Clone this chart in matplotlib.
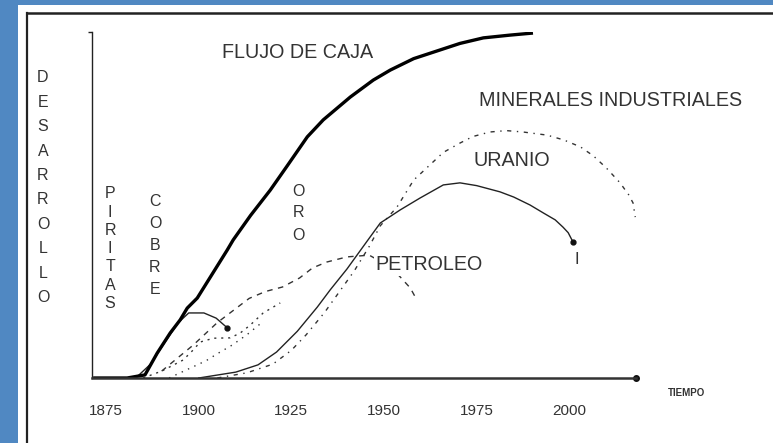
import matplotlib
matplotlib.use("Agg")
import matplotlib.pyplot as plt
from matplotlib import font_manager as fm
from matplotlib.lines import Line2D
from matplotlib.patches import Rectangle

# ---------------- data ----------------
flujo_anio = [1871.5, 1880.7, 1885.5, 1888.8, 1892.3, 1895.0, 1896.9, 1899.6, 1907.7, 1909.3,
              1914.0, 1919.3, 1924.0, 1929.3, 1933.6, 1940.9, 1947.1, 1951.7, 1958.0,
              1965.1, 1970.5, 1976.8, 1984.0, 1990.2]
flujo_val = [0, 0, 0.9, 7.2, 13.0, 16.8, 20.2, 23.1, 37.0, 39.9,
             47.0, 54.3, 61.5, 69.7, 74.6, 81.2, 86.1, 89.0, 92.3,
             94.8, 96.7, 98.3, 99.1, 99.7]

cobre_anio = [1883, 1887, 1891, 1894.5, 1897.3, 1901.4, 1904.7, 1907.7]
cobre_val = [0, 4, 10.5, 16, 18.8, 18.8, 17.3, 14.5]

piritas_anio = [1885, 1890, 1895.8, 1898.5, 1900.4, 1904, 1908.5, 1911.2, 1913.9, 1917.4, 1922]
piritas_val = [0, 2, 5.2, 8.1, 10.4, 11.5, 11.6, 13, 15.3, 18.8, 21.7]

oro_anio = [1892, 1897, 1902, 1905, 1909, 1913, 1917]
oro_val = [0, 2.5, 5, 7, 9.5, 12.5, 16]

petroleo_anio = [1890, 1898.5, 1905, 1913.6, 1918, 1922.6, 1927.2, 1930.7, 1934.5, 1940, 1946,
                 1952, 1957.1, 1958.9]
petroleo_val = [2, 9.5, 16, 23, 25, 26.3, 28.9, 31.8, 33.5, 35, 35.5, 32, 26, 22.5]

uranio_anio = [1900, 1910, 1916, 1921, 1926.6, 1932, 1935.5, 1940, 1945.4, 1949, 1954.4,
               1959.7, 1966, 1970.5, 1975, 1981.3, 1985, 1989.4, 1993, 1996.2, 1998.3,
               1999.7, 2001]
uranio_val = [0, 1.7, 3.8, 7.5, 13.5, 20.5, 25.5, 31.5, 39.5, 44.8, 48.6,
              52.0, 55.8, 56.4, 55.6, 53.8, 52.3, 50.0, 47.7, 45.7, 43.6,
              42.0, 39.3]

minerales_anio = [1905, 1913, 1920, 1925, 1929, 1934, 1938, 1942, 1946, 1949, 1953.5, 1958,
                  1962.4, 1966, 1970.5, 1974, 1978.6, 1983, 1987.5, 1994, 1998.5, 2003,
                  2006.5, 2010, 2013.7, 2016, 2017.2, 2017.8]
minerales_val = [0, 1.5, 4, 8, 12.5, 19, 25, 31, 38, 44, 49.4, 57.2,
                 61.6, 65.2, 67.9, 69.8, 71.1, 71.5, 71.1, 70.2, 68.8, 66.8,
                 64.2, 60.7, 56.4, 53.0, 50.6, 46.5]

x_ticks = [1875, 1900, 1925, 1950, 1975, 2000]
x_tick_labels = ["1875", "1900", "1925", "1950", "1975", "2000"]

# ---------------- figure ----------------
W, H = 773, 443
names = {f.name for f in fm.fontManager.ttflist}
FAM = "Liberation Sans" if "Liberation Sans" in names else "DejaVu Sans"
plt.rcParams["font.family"] = [FAM, "DejaVu Sans"]

fig = plt.figure(figsize=(W / 100, H / 100), dpi=100)
fig.patch.set_facecolor("#5088c2")


def fx(px):
    return px / W


def fy(py):
    return 1 - py / H


# white panel and frame (behind the axes)
fig.patches.append(Rectangle((fx(18), 0), 1, fy(5), transform=fig.transFigure,
                             facecolor="white", edgecolor="none", zorder=-2))
fig.lines.append(Line2D([fx(27), 1.0], [fy(13), fy(13)], transform=fig.transFigure,
                        color="#222222", lw=1.8, zorder=-1))
fig.lines.append(Line2D([fx(27), fx(27)], [0, fy(13)], transform=fig.transFigure,
                        color="#222222", lw=1.6, zorder=-1))

ax = fig.add_axes([fx(92), fy(378), fx(636) - fx(92), fy(32) - fy(378)])
ax.set_facecolor("none")
ax.set_xlim(1871.2, 2018)
ax.set_ylim(0, 100)

for s in ("top", "right"):
    ax.spines[s].set_visible(False)
ax.spines["left"].set_color("#222222")
ax.spines["left"].set_linewidth(1.0)
ax.spines["bottom"].set_color("#333333")
ax.spines["bottom"].set_linewidth(1.8)

ax.set_yticks([100])
ax.set_yticklabels([""])
ax.tick_params(axis="y", direction="out", length=3, width=1, color="#222222")
ax.set_xticks(x_ticks)
ax.set_xticklabels(x_tick_labels)
ax.tick_params(axis="x", length=0, pad=19, labelsize=11, labelcolor="#333333")

# end dot of the x axis
ax.plot([1], [0], "o", transform=ax.transAxes, clip_on=False, color="#111111", ms=4)

# curves
ax.plot(minerales_anio, minerales_val, color="#333333", lw=1.0, ls=(0, (3, 4, 1, 4)),
        clip_on=False)
ax.plot(uranio_anio, uranio_val, color="#222222", lw=1.0, clip_on=False)
ax.plot(uranio_anio[-1:], uranio_val[-1:], "o", color="#111111", ms=3.5)
ax.plot(petroleo_anio, petroleo_val, color="#333333", lw=1.0, ls=(0, (4, 4)))
ax.plot(oro_anio, oro_val, color="#333333", lw=1.0, ls=(0, (1, 4)))
ax.plot(piritas_anio, piritas_val, color="#333333", lw=1.0, ls=(0, (1.5, 3.5)))
ax.plot(cobre_anio, cobre_val, color="#222222", lw=1.0)
ax.plot(cobre_anio[-1:], cobre_val[-1:], "o", color="#111111", ms=3.5)
ax.plot(flujo_anio, flujo_val, color="#000000", lw=2.4, solid_capstyle="butt",
        solid_joinstyle="round")

# labels
TXT = "#333333"
fs = 14.2
fig.text(fx(222), fy(52), "FLUJO DE CAJA", fontsize=fs, color=TXT, va="center", ha="left")
fig.text(fx(479), fy(101), "MINERALES INDUSTRIALES", fontsize=fs, color=TXT, va="center", ha="left")
fig.text(fx(473), fy(160), "URANIO", fontsize=fs, color=TXT, va="center", ha="left")
fig.text(fx(375), fy(265), "PETROLEO", fontsize=fs, color=TXT, va="center", ha="left",
         bbox=dict(facecolor="white", edgecolor="none", pad=1))
fig.text(fx(577), fy(259), "I", fontsize=12, color=TXT, va="center", ha="center")
fig.text(fx(686), fy(393), "TIEMPO", fontsize=7, color="#333333", va="center", ha="center",
         fontweight="bold")


def vertical(word, x, y0, step, size=11.5):
    for i, ch in enumerate(word):
        fig.text(fx(x), fy(y0 + i * step), ch, fontsize=size, color=TXT,
                 ha="center", va="center")


vertical("DESARROLLO", 43, 78, 24.4)
vertical("PIRITAS", 110, 194, 18.2)
vertical("COBRE", 155, 202, 22)
vertical("ORO", 298, 191, 22)

fig.savefig("out.png", dpi=100, facecolor=fig.get_facecolor())
